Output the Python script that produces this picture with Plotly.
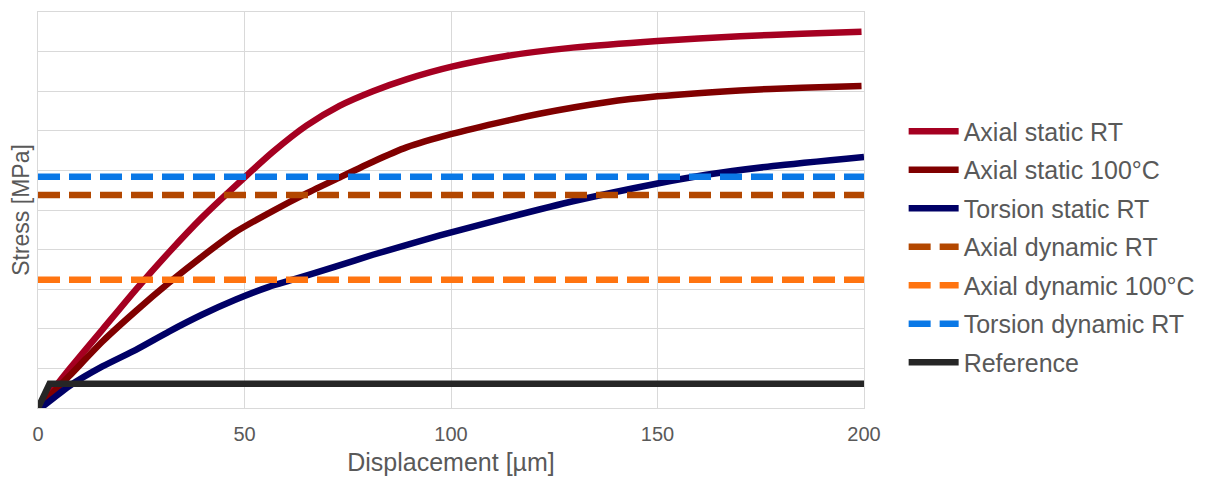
import plotly.graph_objects as go

# ---- data (y in arbitrary stress units 0-10) ----
ax_rt_x = [0, 1.1, 7.5, 15.6, 23.7, 31.7, 39.8, 50.3, 56.9, 65.0, 73.0, 81.1, 89.2, 100.2, 113.4, 129.5, 150, 170, 185, 199.4]
ax_rt_y = [0, 0.13, 0.97, 1.98, 2.99, 3.93, 4.82, 5.85, 6.47, 7.13, 7.63, 8.00, 8.30, 8.62, 8.89, 9.10, 9.27, 9.39, 9.45, 9.50]

ax100_x = [0, 1.9, 7.5, 15.6, 23.7, 31.7, 39.8, 47.9, 56.9, 65.0, 73.0, 81.1, 89.2, 100.2, 113.4, 121.4, 137.6, 150, 169.9, 185, 199.4]
ax100_y = [0, 0.21, 0.80, 1.68, 2.45, 3.16, 3.83, 4.45, 4.98, 5.42, 5.82, 6.22, 6.58, 6.92, 7.25, 7.43, 7.72, 7.87, 8.02, 8.09, 8.13]

tor_x = [0, 1.1, 7.5, 15.6, 23.7, 31.7, 39.8, 47.9, 55.9, 61.7, 72.0, 81.1, 97.3, 113.4, 129.5, 150, 161.8, 178, 200]
tor_y = [0, 0.04, 0.55, 1.05, 1.47, 1.93, 2.36, 2.74, 3.06, 3.24, 3.57, 3.87, 4.36, 4.80, 5.22, 5.67, 5.89, 6.11, 6.34]

dyn_x = [0, 200]
ax_dyn_rt = 5.38
ax_dyn_100 = 3.24
tor_dyn_rt = 5.84

ref_x = [0, 2.8, 200]
ref_y = [0, 0.61, 0.61]

x_ticks = [0, 50, 100, 150, 200]

GRAY = "#595959"
GRID = "#d9d9d9"
FONT = "Liberation Sans, Arial, sans-serif"

fig = go.Figure()

def add(name, x, y, color, dash=None, shape="spline"):
    line = dict(color=color, width=6.5, dash=dash, shape=shape)
    if shape == "spline":
        line["smoothing"] = 0.6
    fig.add_trace(go.Scatter(
        x=x, y=y, mode="lines", name=name, legendgroup=name,
        line=line, hoverinfo="skip",
    ))

add("Axial static RT", ax_rt_x, ax_rt_y, "#a50021")
add("Axial static 100°C", ax100_x, ax100_y, "#800000")
add("Torsion static RT", tor_x, tor_y, "#000066")
add("Axial dynamic RT", dyn_x, [ax_dyn_rt] * len(dyn_x), "#b34700", dash="22px,9px", shape="linear")
add("Axial dynamic 100°C", dyn_x, [ax_dyn_100] * len(dyn_x), "#ff7410", dash="22px,9px", shape="linear")
add("Torsion dynamic RT", dyn_x, [tor_dyn_rt] * len(dyn_x), "#0a78e6", dash="22px,9px", shape="linear")
add("Reference", ref_x, ref_y, "#262626", shape="linear")

fig.update_layout(
    width=1207, height=482,
    margin=dict(l=30, r=351, t=4, b=82, autoexpand=False),
    paper_bgcolor="white", plot_bgcolor="white",
    font=dict(family=FONT, color=GRAY, size=20),
    showlegend=True,
    legend=dict(
        x=1.048, xanchor="left", y=0.4066, yanchor="middle",
        font=dict(size=25, color=GRAY, family=FONT),
        itemwidth=50, tracegroupgap=3, bgcolor="rgba(0,0,0,0)",
    ),
    xaxis=dict(
        range=[0, 200], tickvals=x_ticks, ticktext=[str(v) for v in x_ticks],
        showgrid=True, gridcolor=GRID, gridwidth=1, zeroline=False,
        showline=True, linecolor=GRID, linewidth=1, mirror=True,
        ticks="outside", ticklen=8, tickcolor="rgba(0,0,0,0)",
        tickfont=dict(size=20, color=GRAY), automargin=False,
        title=dict(text="Displacement [µm]", font=dict(size=25, color=GRAY), standoff=9),
    ),
    yaxis=dict(
        range=[0, 10], dtick=1, showticklabels=False,
        showgrid=True, gridcolor=GRID, gridwidth=1, zeroline=False,
        showline=True, linecolor=GRID, linewidth=1, mirror=True, ticks="",
        automargin=False,
        title=dict(text="Stress [MPa]", font=dict(size=23, color=GRAY), standoff=1),
    ),
)

fig.write_html("out.html")
